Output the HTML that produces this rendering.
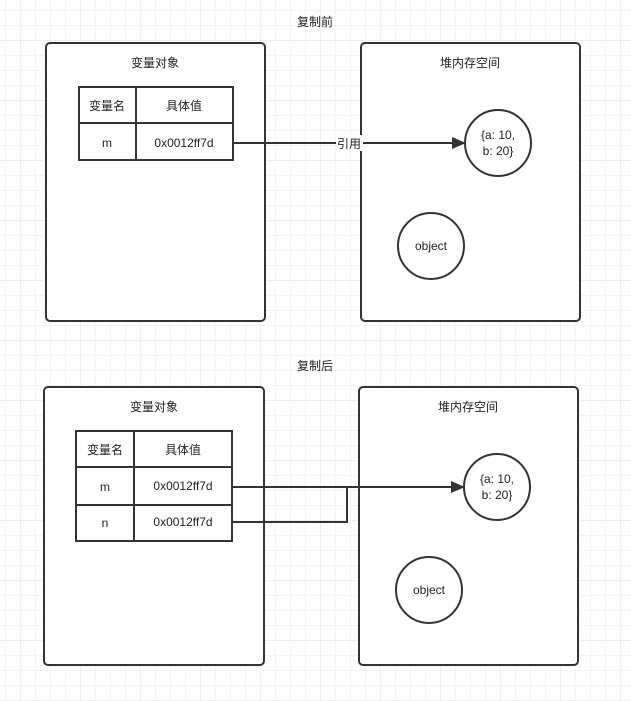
<!DOCTYPE html>
<html><head><meta charset="utf-8"><style>
html,body{margin:0;padding:0;background:#fff;}
svg{display:block;}
text{font-family:"Liberation Sans","Noto Sans CJK SC",sans-serif;font-size:12px;fill:#222;}
</style></head><body>
<svg width="631" height="701" viewBox="0 0 631 701" xmlns="http://www.w3.org/2000/svg">
<defs>
<pattern id="minor" x="5" y="10" width="15" height="15" patternUnits="userSpaceOnUse">
<path d="M0 0H15M0 0V15" stroke="#e9e9e9" stroke-width="1" fill="none"/>
</pattern>
<pattern id="major" x="20" y="40" width="60" height="60" patternUnits="userSpaceOnUse">
<path d="M0 0H60M0 0V60" stroke="#dedede" stroke-width="1" fill="none"/>
</pattern>
</defs>
<rect width="631" height="701" fill="url(#minor)"/>
<rect width="631" height="701" fill="url(#major)"/>

<g stroke="#333" stroke-width="2" fill="#fff">
<rect x="46" y="43" width="219" height="278" rx="4"/>
<rect x="361" y="43" width="219" height="278" rx="4"/>
<rect x="44" y="387" width="220" height="278" rx="4"/>
<rect x="359" y="387" width="219" height="278" rx="4"/>
</g>

<text x="315" y="26" text-anchor="middle">复制前</text>
<text x="155" y="67" text-anchor="middle">变量对象</text>
<text x="470" y="67" text-anchor="middle">堆内存空间</text>

<g stroke="#333" stroke-width="2" fill="none">
<rect x="79" y="87" width="154" height="73"/>
<line x1="79" y1="123" x2="233" y2="123"/>
<line x1="136" y1="87" x2="136" y2="160"/>
<circle cx="498" cy="143" r="33" fill="#fff"/>
<circle cx="431" cy="246" r="33" fill="#fff"/>
<line x1="233" y1="143" x2="454" y2="143"/>
</g>
<polygon points="466,143 452,137 452,149" fill="#333"/>
<rect x="336" y="135" width="27" height="16" fill="#fff"/>
<text x="349" y="148" text-anchor="middle">引用</text>
<text x="107" y="110" text-anchor="middle">变量名</text>
<text x="184" y="110" text-anchor="middle">具体值</text>
<text x="107" y="147" text-anchor="middle">m</text>
<text x="184" y="147" text-anchor="middle">0x0012ff7d</text>
<text x="498" y="139" text-anchor="middle">{a: 10,</text>
<text x="498" y="155" text-anchor="middle">b: 20}</text>
<text x="431" y="250" text-anchor="middle">object</text>

<text x="315" y="370" text-anchor="middle">复制后</text>
<text x="154" y="411" text-anchor="middle">变量对象</text>
<text x="468" y="411" text-anchor="middle">堆内存空间</text>
<g stroke="#333" stroke-width="2" fill="none">
<rect x="76" y="431" width="156" height="110"/>
<line x1="76" y1="467" x2="232" y2="467"/>
<line x1="76" y1="505" x2="232" y2="505"/>
<line x1="134" y1="431" x2="134" y2="541"/>
<circle cx="497" cy="487" r="33" fill="#fff"/>
<circle cx="429" cy="590" r="33" fill="#fff"/>
<line x1="232" y1="487" x2="453" y2="487"/>
<polyline points="232,522 347,522 347,487"/>
</g>
<polygon points="465,487 451,481 451,493" fill="#333"/>
<text x="105" y="454" text-anchor="middle">变量名</text>
<text x="183" y="454" text-anchor="middle">具体值</text>
<text x="105" y="491" text-anchor="middle">m</text>
<text x="183" y="490" text-anchor="middle">0x0012ff7d</text>
<text x="105" y="527" text-anchor="middle">n</text>
<text x="183" y="526" text-anchor="middle">0x0012ff7d</text>
<text x="497" y="483" text-anchor="middle">{a: 10,</text>
<text x="497" y="499" text-anchor="middle">b: 20}</text>
<text x="429" y="594" text-anchor="middle">object</text>
</svg>
</body></html>
